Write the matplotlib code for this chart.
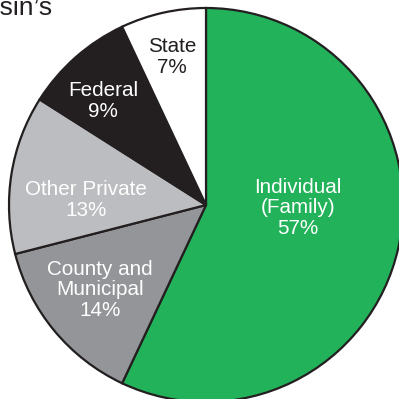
import matplotlib
matplotlib.use("Agg")
import matplotlib.pyplot as plt

plt.rcParams['font.family'] = ['Liberation Sans', 'DejaVu Sans']

categories = ["Individual\n(Family)", "County and\nMunicipal", "Other Private", "Federal", "State"]
values = [57, 14, 13, 9, 7]
colors = ["#22b35a", "#939598", "#bcbdc0", "#231f20", "#ffffff"]
text_colors = ["white", "white", "white", "white", "#231f20"]
label_pos = [(0.467, -0.015), (-0.538, -0.431), (-0.609, 0.025), (-0.523, 0.528), (-0.173, 0.751)]

W = H = 399
fig = plt.figure(figsize=(W / 100, H / 100), dpi=100)
ax = fig.add_axes([0, 0, 1, 1])
cx, cy, R = 206, 205, 197

wedges, _ = ax.pie(values, colors=colors, startangle=90, counterclock=False,
                   radius=1.0, center=(0, 0),
                   wedgeprops=dict(edgecolor="#231f20", linewidth=1.6))
for cat, v, tc, (x, y) in zip(categories, values, text_colors, label_pos):
    ax.text(x, y, f"{cat}\n{v}%", ha="center", va="center", color=tc,
            fontsize=14.9, linespacing=1.08)

ax.set_xlim(-cx / R, (W - cx) / R)
ax.set_ylim(-(H - cy) / R, cy / R)
ax.set_aspect("equal")
ax.axis("off")

fig.text(53 / W, 1 - 15 / H, "Wisconsin\u2019s", ha="right", va="baseline",
         fontsize=19, color="#231f20")

fig.savefig("out.png", dpi=100)
